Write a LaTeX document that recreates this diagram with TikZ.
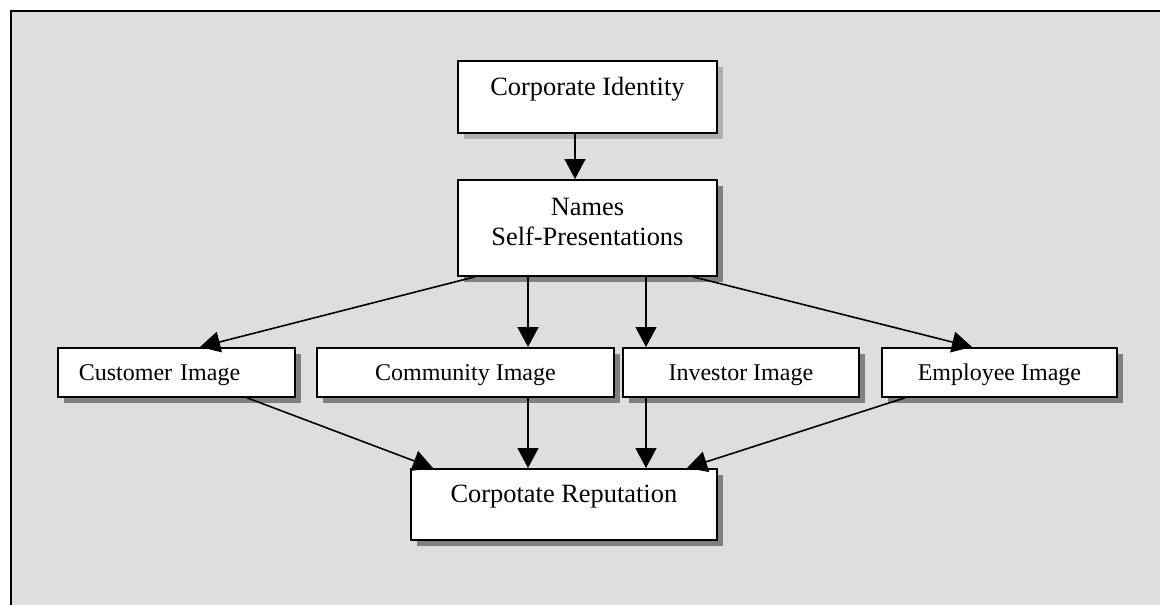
\documentclass[tikz,border=0pt]{standalone}
\usepackage{fontspec}
\setmainfont{Liberation Serif}
\usetikzlibrary{arrows.meta,shadows}
\definecolor{panel}{HTML}{DEDEDE}
\definecolor{shade}{HTML}{808080}
\definecolor{lightshade}{HTML}{B0B0B0}

\begin{document}
\begin{tikzpicture}[x=1pt,y=-1pt,
  box/.style={draw=black, line width=1.8pt, fill=white, inner sep=0pt, anchor=north west,
    general shadow={fill=shade, shadow xshift=6pt, shadow yshift=-6pt}},
  lightbox/.style={box, general shadow={fill=lightshade, shadow xshift=6pt, shadow yshift=-6pt}},
  bigtext/.style={font=\fontsize{26.4}{30}\selectfont},
  smalltext/.style={font=\fontsize{24}{28}\selectfont},
  imagebox/.style={box, smalltext, minimum height=49pt, text height=33pt, text depth=16pt},
  arr/.style={line width=1.6pt, -{Triangle[length=20pt,width=21pt]}},
]
% page area and grey panel
\clip (0,0) rectangle (1160,605);
\fill[panel] (11,11) rectangle (1175,620);
\draw[line width=2pt] (1175,11) -- (11,11) -- (11,620);

% boxes
\node[lightbox, bigtext, minimum width=259pt, minimum height=72pt,
      text height=35pt, text depth=37pt] (ci) at (457,60) {Corporate Identity};
\node[box, bigtext, minimum width=259pt, minimum height=96pt,
      text height=36pt, text depth=60pt] (names) at (457,179)
      {\begin{tabular}[t]{@{}c@{}}Names\\Self-Presentations\end{tabular}};

\node[imagebox, minimum width=237pt, text width=195pt, align=left] (cust) at (57,347) {Customer Image};
\node[imagebox, minimum width=297pt] (comm) at (316,347) {Community Image};
\node[imagebox, minimum width=236pt] (inv) at (622,347) {Investor Image};
\node[imagebox, minimum width=235pt] (emp) at (881,347) {Employee Image};

\node[box, bigtext, minimum width=306pt, minimum height=71pt,
      text height=34pt, text depth=37pt] (rep) at (410,468) {Corpotate Reputation};

% connectors
\draw[arr] ([xshift=118pt]ci.south west) -- ([xshift=118pt]ci.south west |- names.north);
\draw[arr] ([xshift=18pt]names.south west) -- ([xshift=143pt]cust.north west);
\draw[arr] ([xshift=71pt]names.south west) -- ([xshift=71pt]names.south west |- comm.north);
\draw[arr] ([xshift=189pt]names.south west) -- ([xshift=189pt]names.south west |- inv.north);
\draw[arr] ([xshift=236pt]names.south west) -- ([xshift=91pt]emp.north west);

\draw[arr] ([xshift=190pt]cust.south west) -- ([xshift=23pt]rep.north west);
\draw[arr] ([xshift=212pt]comm.south west) -- ([xshift=212pt]comm.south west |- rep.north);
\draw[arr] ([xshift=24pt]inv.south west) -- ([xshift=24pt]inv.south west |- rep.north);
\draw[arr] ([xshift=24pt]emp.south west) -- ([xshift=277pt]rep.north west);
\end{tikzpicture}
\end{document}
